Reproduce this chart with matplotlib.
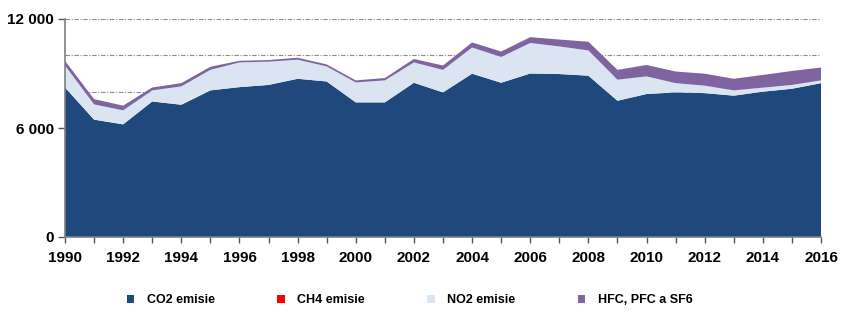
import matplotlib
matplotlib.use("Agg")
import matplotlib.pyplot as plt
from matplotlib.patches import Patch
from matplotlib.ticker import FuncFormatter, MultipleLocator
import numpy as np

years = list(range(1990, 2017))
co2 = [8230, 6460, 6200, 7460, 7280, 8070, 8250, 8370, 8710, 8560, 7410, 7410, 8490,
       7960, 8990, 8490, 9000, 8970, 8880, 7500, 7870, 7960, 7920, 7780, 8000, 8160, 8470]
ch4 = [0] * 27
no2 = [1210, 840, 770, 610, 1010, 1130, 1360, 1280, 1050, 830, 1100, 1210, 1120,
       1240, 1440, 1420, 1680, 1520, 1390, 1160, 970, 510, 410, 290, 220, 210, 150]
hfc = [260, 290, 260, 160, 180, 170, 90, 90, 110, 110, 110, 130, 190,
       240, 280, 300, 320, 380, 480, 540, 630, 640, 660, 640, 700, 770, 710]
labels = ["CO2 emisie", "CH4 emisie", "NO2 emisie", "HFC, PFC a SF6"]
colors = ["#1F497D", "#FF0000", "#DBE5F1", "#8064A2"]
yticks = [0, 6000, 12000]

plt.rcParams['font.family'] = ['Liberation Sans', 'DejaVu Sans']
fig = plt.figure(figsize=(8.5, 3.31), dpi=100)
ax = fig.add_axes([65/850, 1-237/331, (821-65)/850, (237-19)/331])

for g in range(2000, 12001, 2000):
    ax.axhline(g, color="#8c8c8c", lw=0.8, ls=(0, (4, 1.5, 1, 1.5)), zorder=0)

ax.stackplot(years, co2, ch4, no2, hfc, colors=colors, zorder=2, lw=0)

ax.set_xlim(1990, 2016)
ax.set_ylim(0, 12000)
ax.set_yticks(yticks)
ax.yaxis.set_major_formatter(FuncFormatter(lambda v, p: f"{int(v):,}".replace(",", " ")))
ax.xaxis.set_major_locator(MultipleLocator(2))
ax.xaxis.set_minor_locator(MultipleLocator(1))

for s in ["top", "right"]:
    ax.spines[s].set_visible(False)
for s in ["left", "bottom"]:
    ax.spines[s].set_color("#7f7f7f")
    ax.spines[s].set_linewidth(1.2)
    ax.spines[s].set_zorder(3)

ax.tick_params(axis="both", which="both", direction="out", color="#555555",
               labelsize=11, width=1)
ax.tick_params(axis="x", which="major", length=4, pad=6)
ax.tick_params(axis="x", which="minor", length=4)
ax.tick_params(axis="y", length=5, pad=3)
for lab in ax.get_xticklabels() + ax.get_yticklabels():
    lab.set_fontweight("bold")

handles = [Patch(facecolor=c, edgecolor="none") for c in colors]
fig.legend(handles, labels, loc="center", bbox_to_anchor=(0.482, 1 - 300/331), ncol=4,
           frameon=False, prop={"weight": "bold", "size": 9},
           handlelength=0.6, handleheight=0.6, handletextpad=1.0, columnspacing=5.0)

fig.savefig("out.png", dpi=100)
